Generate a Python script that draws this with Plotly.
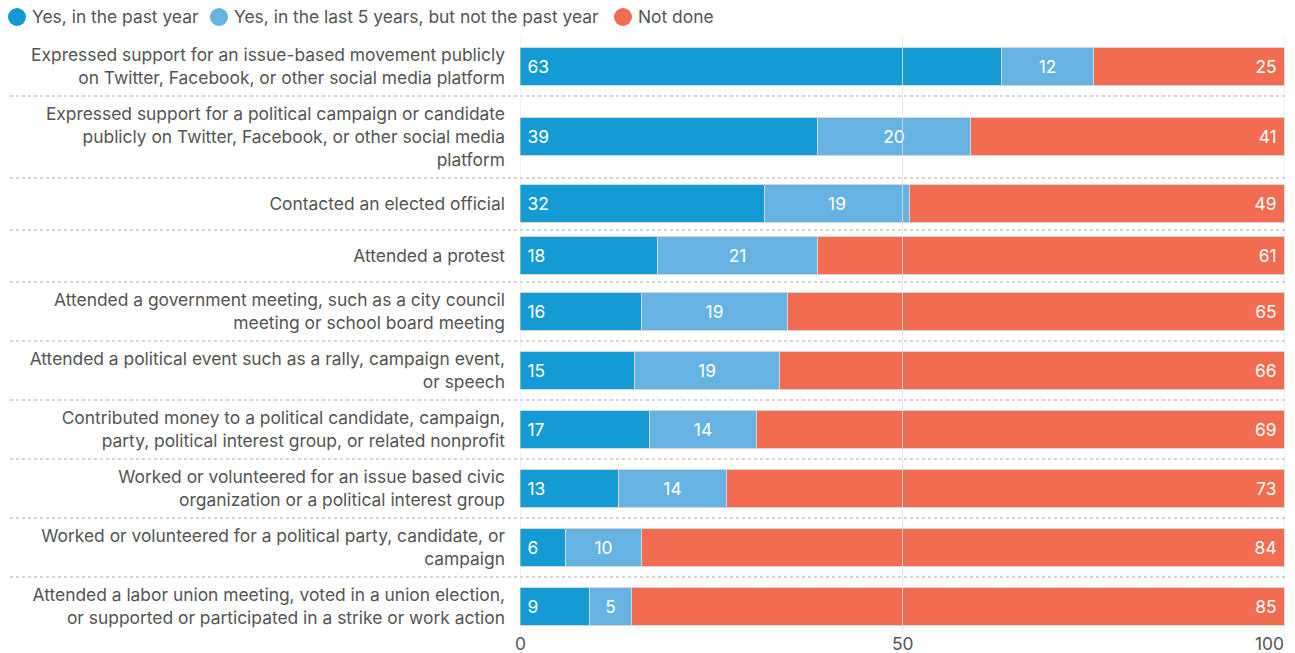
import plotly.graph_objects as go

categories = [
    "Expressed support for an issue-based movement publicly<br>on Twitter, Facebook, or other social media platform",
    "Expressed support for a political campaign or candidate<br>publicly on Twitter, Facebook, or other social media<br>platform",
    "Contacted an elected official",
    "Attended a protest",
    "Attended a government meeting, such as a city council<br>meeting or school board meeting",
    "Attended a political event such as a rally, campaign event,<br>or speech",
    "Contributed money to a political candidate, campaign,<br>party, political interest group, or related nonprofit",
    "Worked or volunteered for an issue based civic<br>organization or a political interest group",
    "Worked or volunteered for a political party, candidate, or<br>campaign",
    "Attended a labor union meeting, voted in a union election,<br>or supported or participated in a strike or work action",
]
past_year = [63, 39, 32, 18, 16, 15, 17, 13, 6, 9.2]
last_5_years = [12, 20, 19, 21, 19, 19, 14, 14, 10, 5.4]
not_done = [25, 41, 49, 61, 65, 66, 69, 73, 84, 85.4]

series_names = ["Yes, in the past year", "Yes, in the last 5 years, but not the past year", "Not done"]
colors = ["#159BD4", "#66B3E3", "#F16C50"]
x_ticks = [0, 50, 100]
x_tick_labels = ["0", "50", "100"]

anchors = ["start", "middle", "end"]
templates = ["\u00a0%{x:.0f}", "%{x:.0f}", "%{x:.0f}\u00a0"]

FONT = "Inter"
FS = 17.4
GREY = "#555555"

W, H = 1295, 653
ML, MR, MT, MB = 520, 10, 37, 17
PW, PH = W - ML - MR, H - MT - MB


def px_x(px):
    return (px - ML) / PW


def px_y(py):
    return (H - MB - py) / PH


# row layout: taller rows for multi-line labels
heights = [max(52, 23 * (c.count("<br>") + 1) + 13) for c in categories]
centers, bounds = [], [0]
for h in heights:
    centers.append(bounds[-1] + h / 2)
    bounds.append(bounds[-1] + h)
total = bounds[-1]

fig = go.Figure()
for name, vals, col, anc, tpl in zip(series_names, [past_year, last_5_years, not_done], colors, anchors, templates):
    fig.add_trace(go.Bar(
        y=centers, x=vals, orientation="h", width=38,
        marker=dict(color=col, line=dict(color="#d6d6d6", width=1)),
        texttemplate=tpl, textposition="inside", insidetextanchor=anc,
        textfont=dict(color="white", size=FS, family=FONT),
        showlegend=False, hoverinfo="skip", name=name,
    ))

shapes = []
for b in bounds[1:-1]:
    shapes.append(dict(type="line", xref="paper", yref="y", x0=px_x(10), x1=1, y0=b, y1=b,
                       line=dict(color="#aaaaaa", width=1, dash="dot"), layer="below"))
for t in x_ticks:
    shapes.append(dict(type="line", xref="x", yref="paper", x0=t, x1=t, y0=0, y1=1,
                       line=dict(color="rgba(225,225,225,0.8)", width=1), layer="above"))

annotations = []
# x tick labels (last one kept inside the chart edge)
for i, (t, lab) in enumerate(zip(x_ticks, x_tick_labels)):
    annotations.append(dict(xref="x", yref="paper", x=t, y=px_y(643),
                            xanchor="right" if i == len(x_ticks) - 1 else "center",
                            yanchor="middle", text=lab, showarrow=False,
                            xshift=1 if i == len(x_ticks) - 1 else 0,
                            font=dict(family=FONT, size=FS, color=GREY)))

# legend drawn as circles + text
legend_x = [17, 219, 623]
for name, col, cx in zip(series_names, colors, legend_x):
    shapes.append(dict(type="circle", xref="paper", yref="paper", xsizemode="pixel", ysizemode="pixel",
                       xanchor=px_x(cx), yanchor=px_y(17), x0=-9, x1=9, y0=-9, y1=9,
                       fillcolor=col, line=dict(width=0), layer="above"))
    annotations.append(dict(xref="paper", yref="paper", x=px_x(cx + 13), y=px_y(17),
                            xanchor="left", yanchor="middle", text=name, showarrow=False,
                            font=dict(family=FONT, size=FS, color=GREY)))

fig.update_layout(
    width=W, height=H,
    margin=dict(l=ML, r=MR, t=MT, b=MB, autoexpand=False),
    paper_bgcolor="white", plot_bgcolor="white",
    barmode="stack", bargap=0,
    font=dict(family=FONT, color=GREY, size=FS),
    uniformtext=dict(minsize=16, mode="show"),
    showlegend=False,
    shapes=shapes, annotations=annotations,
    xaxis=dict(range=[0, 100], tickvals=x_ticks, showticklabels=False, showgrid=False, zeroline=False,
               automargin=False, showline=False, ticks=""),
    yaxis=dict(range=[total, 0], tickvals=centers, ticktext=categories, showgrid=False, automargin=False,
               zeroline=False, showline=False, ticks="", ticklabelstandoff=14,
               tickfont=dict(size=FS, color=GREY)),
)

fig.write_html("out.html")
